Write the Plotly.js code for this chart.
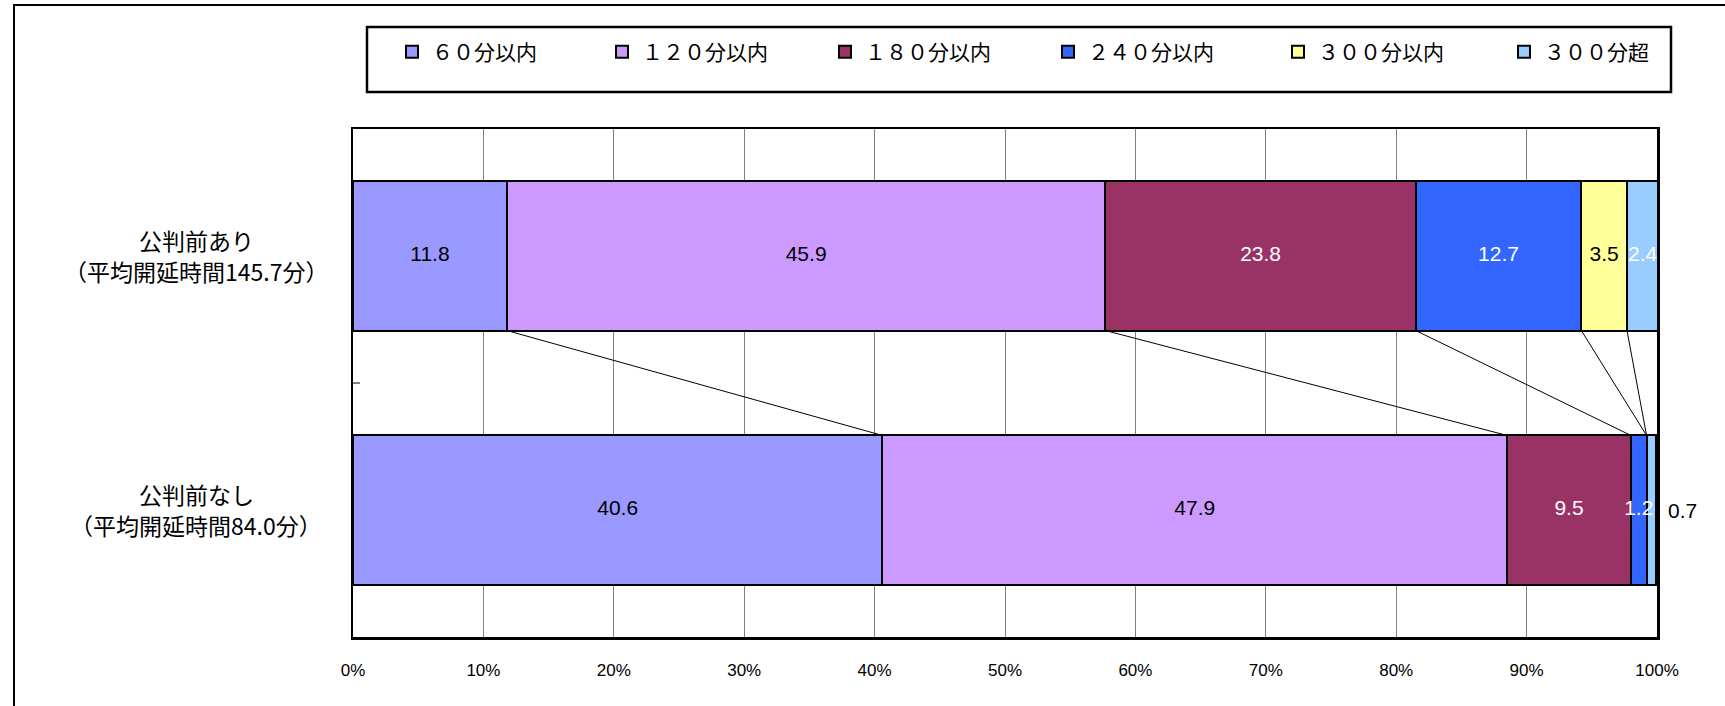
<!DOCTYPE html>
<html>
<head>
<meta charset="utf-8">
<script src="https://cdn.plot.ly/plotly-3.0.1.min.js"></script>
<style>
  html, body { margin: 0; padding: 0; background: #fff; overflow: hidden; }
  #wrap { position: relative; width: 1725px; height: 706px; }
  #chart { position: absolute; left: 0; top: 0; width: 1725px; height: 706px; }
  #frame { position: absolute; left: 13px; top: 4px; width: 1725px; height: 720px;
           border-left: 2px solid #000; border-top: 2px solid #000; pointer-events: none; }
</style>
</head>
<body>
<div id="wrap">
  <div id="chart"></div>
  <div id="frame"></div>
</div>
<script>
// ---- data ----
const categories = ['公判前あり', '公判前なし'];
const subLabels = ['（平均開延時間145.7分）', '（平均開延時間84.0分）'];
const seriesNames = ['６０分以内', '１２０分以内', '１８０分以内', '２４０分以内', '３００分以内', '３００分超'];
const v60 = [11.8, 40.6];
const v120 = [45.9, 47.9];
const v180 = [23.8, 9.5];
const v240 = [12.7, 1.2];
const v300 = [3.5, 0.0];
const v300plus = [2.4, 0.7];
const tickLabels = ['0%', '10%', '20%', '30%', '40%', '50%', '60%', '70%', '80%', '90%', '100%'];
const tickValues = [0, 10, 20, 30, 40, 50, 60, 70, 80, 90, 100];

// ---- styles ----
const seriesValues = [v60, v120, v180, v240, v300, v300plus];
const colors = ['#9999FF', '#CC99FF', '#993366', '#3366FF', '#FFFF99', '#99CCFF'];
const textColors = ['#000', '#000', '#fff', '#fff', '#000', '#fff'];
const outsideLabel = [[], [], [], [], [], [1]]; // point indices labelled outside the bar
const legendWidths = [165, 178, 178, 185, 181, 100];
const bargap = 0.413;
const barW = 1 - bargap;
const numFont = '"Liberation Sans", Arial, sans-serif';
const cjkFont = '"Noto Sans CJK JP", "Noto Sans", sans-serif';

const traces = seriesValues.map((vals, s) => ({
  type: 'bar',
  orientation: 'h',
  name: seriesNames[s],
  legendwidth: legendWidths[s],
  y: categories,
  x: vals,
  marker: { color: colors[s], line: { color: '#000', width: 2 } },
  hoverinfo: 'skip'
}));

// value labels drawn on top of all bars, centred on each segment
const lx = [], ly = [], lt = [], lc = [];
categories.forEach((c, i) => {
  let cum = 0;
  seriesValues.forEach((vals, s) => {
    const v = vals[i];
    if (v > 0 && outsideLabel[s].indexOf(i) < 0) {
      lx.push(cum + v / 2); ly.push(c); lt.push(v.toFixed(1)); lc.push(textColors[s]);
    }
    cum += v;
  });
});
traces.push({
  type: 'scatter', mode: 'text', x: lx, y: ly, text: lt,
  textposition: 'middle center', cliponaxis: true,
  textfont: { family: numFont, size: 21, color: lc },
  showlegend: false, hoverinfo: 'skip'
});

// connector lines between cumulative boundaries
const shapes = [];
for (let k = 0; k < seriesValues.length - 1; k++) {
  let c0 = 0, c1 = 0;
  for (let s = 0; s <= k; s++) { c0 += seriesValues[s][0]; c1 += seriesValues[s][1]; }
  shapes.push({
    type: 'line', xref: 'x', yref: 'y', layer: 'above',
    x0: c0, y0: 0 + barW / 2, x1: c1, y1: 1 - barW / 2,
    line: { color: '#000', width: 1 }
  });
}
// legend box
shapes.push({
  type: 'rect', xref: 'paper', yref: 'paper', layer: 'above',
  x0: (367 - 353) / 1304, x1: (1671 - 353) / 1304,
  y0: 1 + (129 - 92) / 508, y1: 1 + (129 - 27) / 508,
  line: { color: '#000', width: 2.5 }, fillcolor: 'rgba(0,0,0,0)'
});

const annotations = [];
categories.forEach((c, i) => {
  annotations.push({
    xref: 'paper', yref: 'y', x: (196 - 353) / 1304, y: c, yshift: 16,
    xanchor: 'center', yanchor: 'middle', align: 'center', borderpad: 0,
    text: c, showarrow: false,
    font: { family: cjkFont, size: 23, color: '#000' }
  });
  annotations.push({
    xref: 'paper', yref: 'y', x: (196 - 353) / 1304, y: c, yshift: -15,
    xanchor: 'center', yanchor: 'middle', align: 'center', borderpad: 0,
    text: subLabels[i], showarrow: false,
    font: { family: cjkFont, size: 23, color: '#000' }
  });
});
// labels that sit outside the bar end
seriesValues.forEach((vals, s) => {
  outsideLabel[s].forEach(i => {
    let tot = 0;
    seriesValues.forEach(v => { tot += v[i]; });
    annotations.push({
      xref: 'x', yref: 'y', x: tot, y: categories[i],
      xanchor: 'left', yanchor: 'middle', xshift: 10,
      text: vals[i].toFixed(1), showarrow: false,
      font: { family: numFont, size: 21, color: '#000' }
    });
  });
});

const layout = {
  width: 1725, height: 706,
  margin: { l: 353, r: 68, t: 129, b: 69, pad: 0 },
  paper_bgcolor: '#fff', plot_bgcolor: '#fff',
  barmode: 'stack',
  bargap: bargap,
  showlegend: true,
  legend: {
    orientation: 'h', x: (392 - 353) / 1304, xanchor: 'left',
    y: 1 + (129 - 52) / 508, yanchor: 'middle',
    font: { family: cjkFont, size: 21, color: '#000' },
    entrywidthmode: 'pixels',
    bgcolor: 'rgba(0,0,0,0)', borderwidth: 0, traceorder: 'normal'
  },
  xaxis: {
    range: [0, 100], tickvals: tickValues, ticktext: tickLabels,
    showgrid: true, gridcolor: '#808080', gridwidth: 1,
    showline: true, mirror: true, linecolor: '#000', linewidth: 2.5,
    ticks: '', zeroline: false, ticklabelstandoff: 16,
    tickfont: { family: numFont, size: 17, color: '#000' },
    fixedrange: true
  },
  yaxis: {
    type: 'category', categoryorder: 'array', categoryarray: categories,
    range: [1.5, -0.5],
    showticklabels: false, showgrid: false, zeroline: false,
    tickson: 'boundaries', ticks: 'inside', ticklen: 7, tickwidth: 2, tickcolor: '#808080',
    showline: true, mirror: true, linecolor: '#000', linewidth: 2.5,
    fixedrange: true
  },
  shapes: shapes,
  annotations: annotations
};

Plotly.newPlot('chart', traces, layout, { displayModeBar: false, staticPlot: true });
</script>
</body>
</html>
